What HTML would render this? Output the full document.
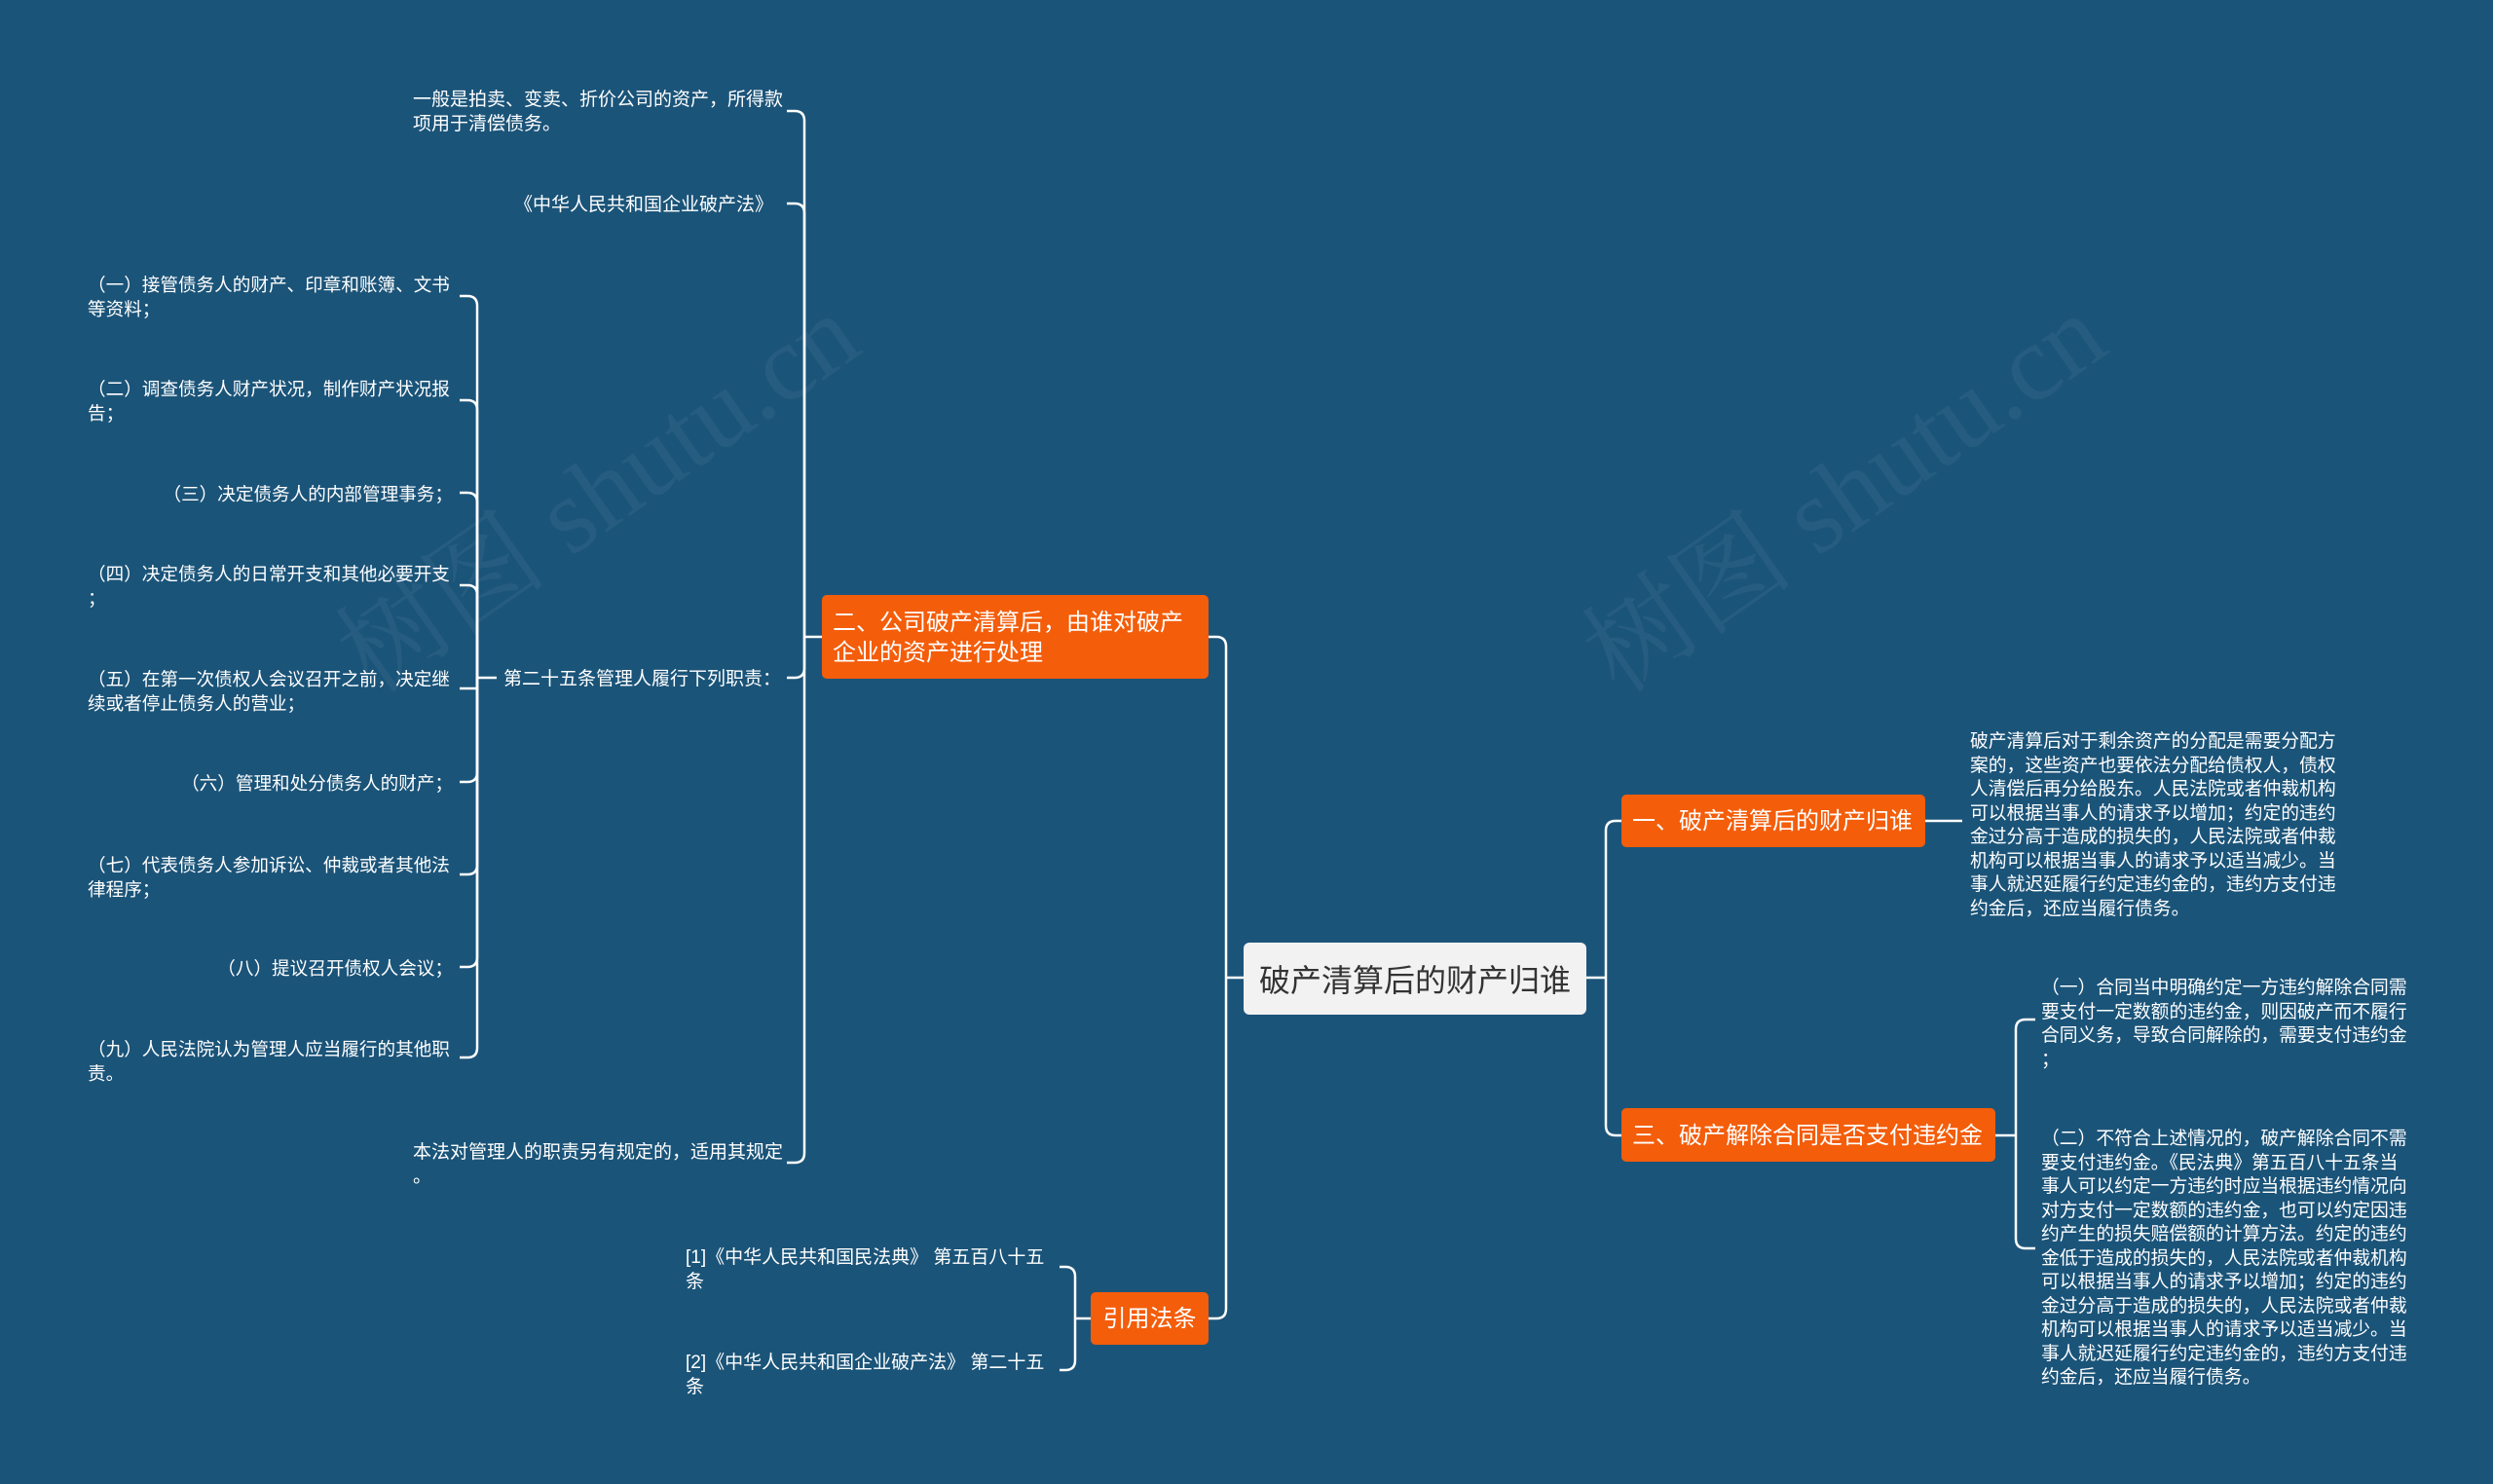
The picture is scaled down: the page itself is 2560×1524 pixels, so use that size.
<!DOCTYPE html>
<html><head><meta charset="utf-8"><style>
html,body{margin:0;padding:0;width:2560px;height:1524px;overflow:hidden}
#w{width:2560px;height:1524px;background:#1b5479;position:relative;overflow:hidden;font-family:"Liberation Sans","Noto Sans CJK SC",sans-serif;color:#fff}
.t{position:absolute;font-size:19px;line-height:24.5px;white-space:nowrap}
.r{text-align:right}
.b{position:absolute;background:#f45d0a;border-radius:5px;font-size:24px;line-height:31px;color:#fff;box-sizing:border-box;padding:0 11px}
.c{position:absolute;background:#f2f2f2;border-radius:6px;color:#333;font-size:32px;box-sizing:border-box;display:flex;align-items:center;justify-content:center}
.wm{position:absolute;font-family:"Liberation Serif","Noto Serif CJK SC",serif;font-size:110px;color:rgba(255,255,255,0.05);transform:rotate(-35deg);white-space:nowrap}
</style></head><body><div id="w">
<div class="wm" style="left:300px;top:420px">树图 shutu.cn</div>
<div class="wm" style="left:1580px;top:420px">树图 shutu.cn</div>
<svg width="2560" height="1524" style="position:absolute;left:0;top:0" fill="none" stroke="#fff" stroke-width="2.5">
<path d="M1277 1004 H1259"/>
<path d="M1259 1004 V664 Q1259 654 1249 654 H1241"/>
<path d="M1259 1004 V1344 Q1259 1354 1249 1354 H1241"/>
<path d="M1629 1004 H1649"/>
<path d="M1649 1004 V853 Q1649 843 1659 843 H1665"/>
<path d="M1649 1004 V1156 Q1649 1166 1659 1166 H1665"/>
<path d="M1977 843 H2015"/>
<path d="M2049 1166 H2070"/>
<path d="M2070 1166 V1057 Q2070 1047 2080 1047 H2090"/>
<path d="M2070 1166 V1272 Q2070 1282 2080 1282 H2090"/>
<path d="M1120 1354 H1104"/>
<path d="M1104 1354 V1311 Q1104 1301 1094 1301 H1088"/>
<path d="M1104 1354 V1397 Q1104 1407 1094 1407 H1088"/>
<path d="M844 654 H826"/>
<path d="M826 654 V124 Q826 114 816 114 H808"/>
<path d="M826 654 V219 Q826 209 816 209 H808"/>
<path d="M826 654 V686 Q826 696 816 696 H808"/>
<path d="M826 654 V1184 Q826 1194 816 1194 H808"/>
<path d="M510 696 H490"/>
<path d="M490 696 V314 Q490 304 480 304 H472"/>
<path d="M490 696 V421 Q490 411 480 411 H472"/>
<path d="M490 696 V516 Q490 506 480 506 H472"/>
<path d="M490 696 V611 Q490 601 480 601 H472"/>
<path d="M490 696 V707 H472"/>
<path d="M490 696 V793 Q490 803 480 803 H472"/>
<path d="M490 696 V888 Q490 898 480 898 H472"/>
<path d="M490 696 V983 Q490 993 480 993 H472"/>
<path d="M490 696 V1076 Q490 1086 480 1086 H472"/>
</svg>

<div class="c" style="left:1277px;top:968px;width:352px;height:74px">破产清算后的财产归谁</div>
<div class="b" style="left:1665px;top:816px;width:312px;height:54px;line-height:56px">一、破产清算后的财产归谁</div>
<div class="b" style="left:1665px;top:1138px;width:384px;height:55px;line-height:57px">三、破产解除合同是否支付违约金</div>
<div class="b" style="left:844px;top:611px;width:397px;height:86px;padding-top:13px">二、公司破产清算后，由谁对破产<br>企业的资产进行处理</div>
<div class="b" style="left:1120px;top:1327px;width:121px;height:54px;line-height:56px;text-align:center;padding:0">引用法条</div>

<div class="t" style="left:2023px;top:749px;font-size:18.8px">破产清算后对于剩余资产的分配是需要分配方<br>案的，这些资产也要依法分配给债权人，债权<br>人清偿后再分给股东。人民法院或者仲裁机构<br>可以根据当事人的请求予以增加；约定的违约<br>金过分高于造成的损失的，人民法院或者仲裁<br>机构可以根据当事人的请求予以适当减少。当<br>事人就迟延履行约定违约金的，违约方支付违<br>约金后，还应当履行债务。</div>
<div class="t" style="left:2096px;top:1002px;font-size:18.8px">（一）合同当中明确约定一方违约解除合同需<br>要支付一定数额的违约金，则因破产而不履行<br>合同义务，导致合同解除的，需要支付违约金<br>；</div>
<div class="t" style="left:2096px;top:1157px;font-size:18.8px">（二）不符合上述情况的，破产解除合同不需<br>要支付违约金。《民法典》第五百八十五条当<br>事人可以约定一方违约时应当根据违约情况向<br>对方支付一定数额的违约金，也可以约定因违<br>约产生的损失赔偿额的计算方法。约定的违约<br>金低于造成的损失的，人民法院或者仲裁机构<br>可以根据当事人的请求予以增加；约定的违约<br>金过分高于造成的损失的，人民法院或者仲裁<br>机构可以根据当事人的请求予以适当减少。当<br>事人就迟延履行约定违约金的，违约方支付违<br>约金后，还应当履行债务。</div>

<div class="t" style="left:704px;top:1280px">[1]《中华人民共和国民法典》 第五百八十五<br>条</div>
<div class="t" style="left:704px;top:1388px">[2]《中华人民共和国企业破产法》 第二十五<br>条</div>

<div class="t" style="left:424px;top:91px">一般是拍卖、变卖、折价公司的资产，所得款<br>项用于清偿债务。</div>
<div class="t r" style="right:1766px;top:199px">《中华人民共和国企业破产法》</div>
<div class="t" style="left:517px;top:686px">第二十五条管理人履行下列职责：</div>
<div class="t" style="left:424px;top:1172px">本法对管理人的职责另有规定的，适用其规定<br>。</div>

<div class="t" style="left:90px;top:281px;font-size:18.6px">（一）接管债务人的财产、印章和账簿、文书<br>等资料；</div>
<div class="t" style="left:90px;top:388px;font-size:18.6px">（二）调查债务人财产状况，制作财产状况报<br>告；</div>
<div class="t r" style="right:2095px;top:496px;font-size:18.6px">（三）决定债务人的内部管理事务；</div>
<div class="t" style="left:90px;top:578px;font-size:18.6px">（四）决定债务人的日常开支和其他必要开支<br>；</div>
<div class="t" style="left:90px;top:686px;font-size:18.6px">（五）在第一次债权人会议召开之前，决定继<br>续或者停止债务人的营业；</div>
<div class="t r" style="right:2095px;top:793px;font-size:18.6px">（六）管理和处分债务人的财产；</div>
<div class="t" style="left:90px;top:877px;font-size:18.6px">（七）代表债务人参加诉讼、仲裁或者其他法<br>律程序；</div>
<div class="t r" style="right:2095px;top:983px;font-size:18.6px">（八）提议召开债权人会议；</div>
<div class="t" style="left:90px;top:1066px;font-size:18.6px">（九）人民法院认为管理人应当履行的其他职<br>责。</div>
</div></body></html>
